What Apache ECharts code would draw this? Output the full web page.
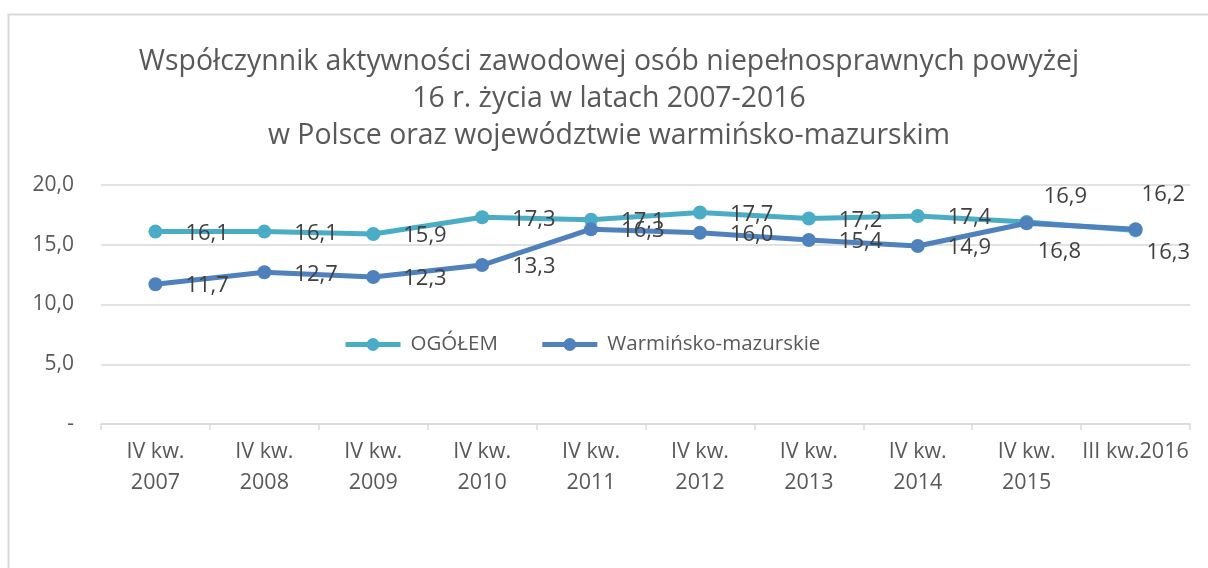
<!DOCTYPE html>
<html><head><meta charset="utf-8">
<script src="https://cdn.jsdelivr.net/npm/echarts@6/dist/echarts.min.js"></script>
<style>html,body{margin:0;padding:0;background:#fff}#c{width:1208px;height:568px}</style>
</head><body><div id="c"></div>
<script>
const categories = ['IV kw.\n2007','IV kw.\n2008','IV kw.\n2009','IV kw.\n2010','IV kw.\n2011','IV kw.\n2012','IV kw.\n2013','IV kw.\n2014','IV kw.\n2015','III kw.2016'];
const ogolem = [16.1, 16.1, 15.9, 17.3, 17.1, 17.7, 17.2, 17.4, 16.9, 16.2];
const warminsko = [11.7, 12.7, 12.3, 13.3, 16.3, 16.0, 15.4, 14.9, 16.8, 16.3];
const yTicks = [0, 5, 10, 15, 20];
const titleLines = ['Współczynnik aktywności zawodowej osób niepełnosprawnych powyżej','16 r. życia w latach 2007-2016','w Polsce oraz województwie warmińsko-mazurskim'];

const FONT = 'Open Sans';
const fmt = v => v.toFixed(1).replace('.', ',');
const lbl = {show:true, position:'right', distance:23, offset:[0,2], fontSize:22, color:'#404040', fontFamily:FONT, formatter:p=>fmt(p.value)};

function mk(vals, special) {
  return vals.map((v,i)=> special[i] ? {value:v, label:Object.assign({}, lbl, special[i])} : v);
}

const chart = echarts.init(document.getElementById('c'));
chart.setOption({
  backgroundColor:'#fff',
  animation:false,
  graphic:[
    {type:'rect', shape:{x:8.5,y:14.5,width:1300,height:700}, style:{fill:'none', stroke:'#d9d9d9', lineWidth:2}, silent:true},
    {type:'text', x:609, y:43, style:{text:titleLines.join('\n'), fontFamily:FONT, fontSize:28.4, fill:'#595959', lineHeight:37, align:'center', verticalAlign:'top'}, silent:true}
  ],
  legend:{top:329, left:338, itemWidth:55, itemHeight:16, itemGap:42, lineStyle:{width:5}, textStyle:{fontFamily:FONT, fontSize:20.5, color:'#595959', padding:[0,0,0,5]}, data:['OGÓŁEM','Warmińsko-mazurskie']},
  grid:{left:101, right:18, top:185, bottom:144},
  xAxis:{type:'category', data:categories, boundaryGap:true,
    axisLine:{lineStyle:{color:'#d9d9d9', width:1.5}},
    axisTick:{show:true, length:6, lineStyle:{color:'#d9d9d9', width:1.5}},
    axisLabel:{fontFamily:FONT, fontSize:21.5, color:'#595959', lineHeight:31, margin:12, interval:0}},
  yAxis:{type:'value', min:yTicks[0], max:yTicks[yTicks.length-1], interval:5,
    axisLine:{show:false}, axisTick:{show:false},
    splitLine:{lineStyle:{color:'#d9d9d9', width:1.5}},
    axisLabel:{fontFamily:FONT, fontSize:21, color:'#595959', margin:27, formatter:v=> v===0 ? '-' : fmt(v)}},
  series:[
    {name:'OGÓŁEM', type:'line', data:mk(ogolem, {8:{offset:[-13,-25]}, 9:{offset:[-24,-36]}}),
     symbol:'circle', symbolSize:14, lineStyle:{width:5, color:'#4BACC6'}, itemStyle:{color:'#4BACC6'}, label:lbl, z:2},
    {name:'Warmińsko-mazurskie', type:'line', data:mk(warminsko, {8:{offset:[-19,28]}, 9:{offset:[-19,24]}}),
     symbol:'circle', symbolSize:14, lineStyle:{width:5, color:'#4F81BD'}, itemStyle:{color:'#4F81BD'}, label:lbl, z:3}
  ]
});
</script></body></html>
